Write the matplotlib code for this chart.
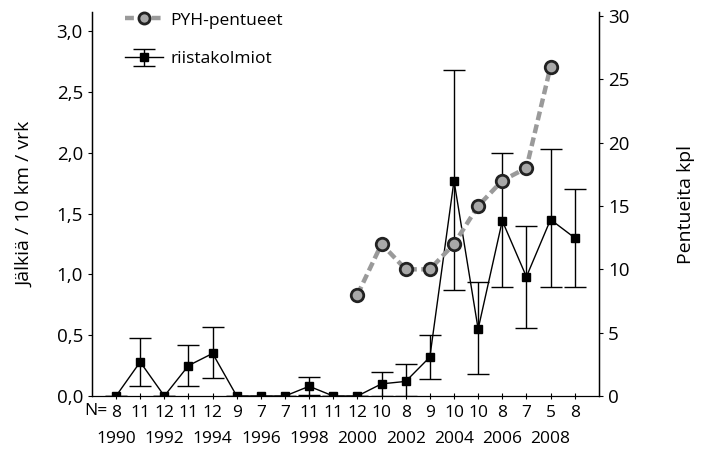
import matplotlib.pyplot as plt
from matplotlib.lines import Line2D
import matplotlib.transforms as mtransforms
import numpy as np

plt.rcParams['font.family'] = ['Open Sans', 'DejaVu Sans']

years = list(range(1990, 2010))
n_counts = [8, 11, 12, 11, 12, 9, 7, 7, 11, 11, 12, 10, 8, 9, 10, 10, 8, 7, 5, 8]
year_labels = list(range(1990, 2010, 2))

# riistakolmiot: tracks / 10 km / day with error bar limits
tracks = [0, 0.28, 0, 0.25, 0.35, 0, 0, 0, 0.08, 0, 0, 0.10, 0.12, 0.32, 1.77, 0.55, 1.44, 0.98, 1.45, 1.30]
err_hi = [0, 0.48, 0, 0.42, 0.57, 0, 0, 0, 0.16, 0, 0, 0.20, 0.26, 0.50, 2.68, 0.94, 2.00, 1.40, 2.03, 1.70]
err_lo = [0, 0.08, 0, 0.08, 0.15, 0, 0, 0, 0.01, 0, 0, 0.00, 0.00, 0.14, 0.87, 0.18, 0.90, 0.56, 0.90, 0.90]

# PYH-pentueet (litters), right axis
litter_years = list(range(2000, 2009))
litters = [8, 12, 10, 10, 12, 15, 17, 18, 26]

tracks = np.array(tracks)
yerr = [tracks - np.array(err_lo), np.array(err_hi) - tracks]

fig = plt.figure(figsize=(7.07, 4.49), dpi=100)
ax = fig.add_axes([0.130, 0.118, 0.717, 0.855])
ax2 = ax.twinx()

dash = (0, (2.0, 1.0))
eb = ax.errorbar(years, tracks, yerr=yerr, color='black', lw=1.0, marker='s', ms=5.5,
                 capsize=8, elinewidth=1.0, capthick=1.0, zorder=3)
ax2.plot(litter_years, litters, color='#9a9a9a', ls=dash, lw=3.2,
         marker='o', ms=9, mfc='#a8a8a8', mec='#222222', mew=2.0, zorder=4)

ax.set_xlim(1989, 2010)
ax.set_ylim(0, 3.155)
ax2.set_ylim(0, 30.3)
ax.set_yticks([0, 0.5, 1.0, 1.5, 2.0, 2.5, 3.0])
ax.set_yticklabels(['0,0', '0,5', '1,0', '1,5', '2,0', '2,5', '3,0'])
ax2.set_yticks([0, 5, 10, 15, 20, 25, 30])

# N row as tick labels, years as a second row
ax.set_xticks(years)
ax.set_xticklabels([str(n) for n in n_counts], fontsize=12.5)
trans = mtransforms.blended_transform_factory(ax.transData, ax.transAxes)
ax.text(1989.66, -0.018, 'N=', ha='right', va='top', fontsize=12.5,
        transform=trans, clip_on=False)
for y in year_labels:
    ax.text(y, -0.09, str(y), ha='center', va='top', fontsize=12.5,
            transform=trans, clip_on=False)

for a in (ax, ax2):
    a.spines['top'].set_visible(False)
    a.tick_params(labelsize=13.5, length=3, width=0.8)
ax.tick_params(axis='x', direction='inout', length=5, labelsize=12.5, pad=4)
ax.spines['left'].set_linewidth(1.0)
ax2.spines['right'].set_linewidth(1.0)

ax.set_ylabel('Jälkiä / 10 km / vrk', fontsize=14, labelpad=16)
ax2.set_ylabel('Pentueita kpl', fontsize=14, labelpad=34)

h1 = Line2D([], [], color='#9a9a9a', ls=dash, lw=3.2, marker='o', ms=8,
            mfc='#a8a8a8', mec='#222222', mew=2.0)
ax2.legend([h1, eb], ['PYH-pentueet', 'riistakolmiot'], loc='upper left',
           bbox_to_anchor=(0.035, 1.04), frameon=False, fontsize=12.5,
           handlelength=2.2, labelspacing=1.3, handletextpad=0.4)

fig.savefig('out.png', dpi=100)
